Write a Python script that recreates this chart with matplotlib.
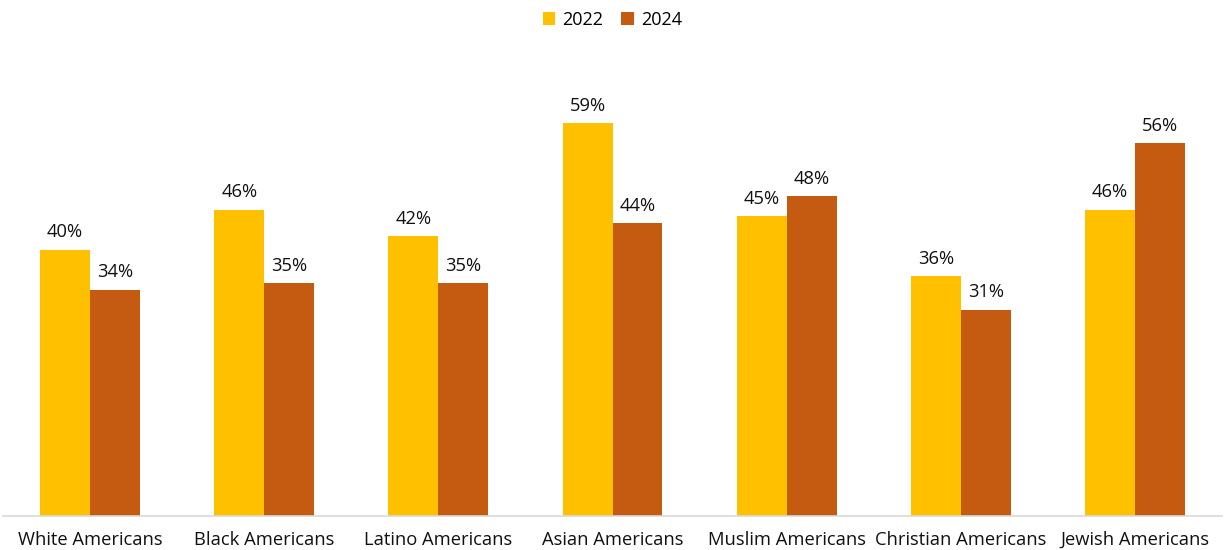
import matplotlib.pyplot as plt
import numpy as np

categories = ['White Americans', 'Black Americans', 'Latino Americans', 'Asian Americans',
              'Muslim Americans', 'Christian Americans', 'Jewish Americans']
vals_2022 = [40, 46, 42, 59, 45, 36, 46]
vals_2024 = [34, 35, 35, 44, 48, 31, 56]

plt.rcParams['font.family'] = ['Open Sans', 'DejaVu Sans']

fig = plt.figure(figsize=(12.25, 5.5), dpi=100)
ax = fig.add_axes([3 / 1225, 34 / 550, 1219 / 1225, 466 / 550])

x = np.arange(len(categories))
w = 0.287
b1 = ax.bar(x - w / 2, vals_2022, w, color='#FFC000', label='2022')
b2 = ax.bar(x + w / 2, vals_2024, w, color='#C55A11', label='2024')

for bars in (b1, b2):
    for rect in bars:
        h = rect.get_height()
        ax.annotate('{}%'.format(h), (rect.get_x() + rect.get_width() / 2, h),
                    xytext=(0, 6), textcoords='offset points',
                    ha='center', va='bottom', fontsize=13.2, color='#111111')

ax.set_xlim(-0.5, len(categories) - 0.5)
ax.set_ylim(0, 70)
ax.set_xticks(x)
ax.set_xticklabels(categories, fontsize=13.2, color='#111111')
ax.tick_params(axis='x', length=0, pad=11)
ax.set_yticks([])
for s in ('top', 'right', 'left'):
    ax.spines[s].set_visible(False)
ax.spines['bottom'].set_color('#d9d9d9')
ax.spines['bottom'].set_linewidth(1.2)

fig.legend(loc='upper center', bbox_to_anchor=(0.5, 1.01), ncol=2, frameon=False,
           fontsize=13, handlelength=0.7, handleheight=0.7, columnspacing=1.0,
           handletextpad=0.4)

fig.savefig('out.png', dpi=100)
